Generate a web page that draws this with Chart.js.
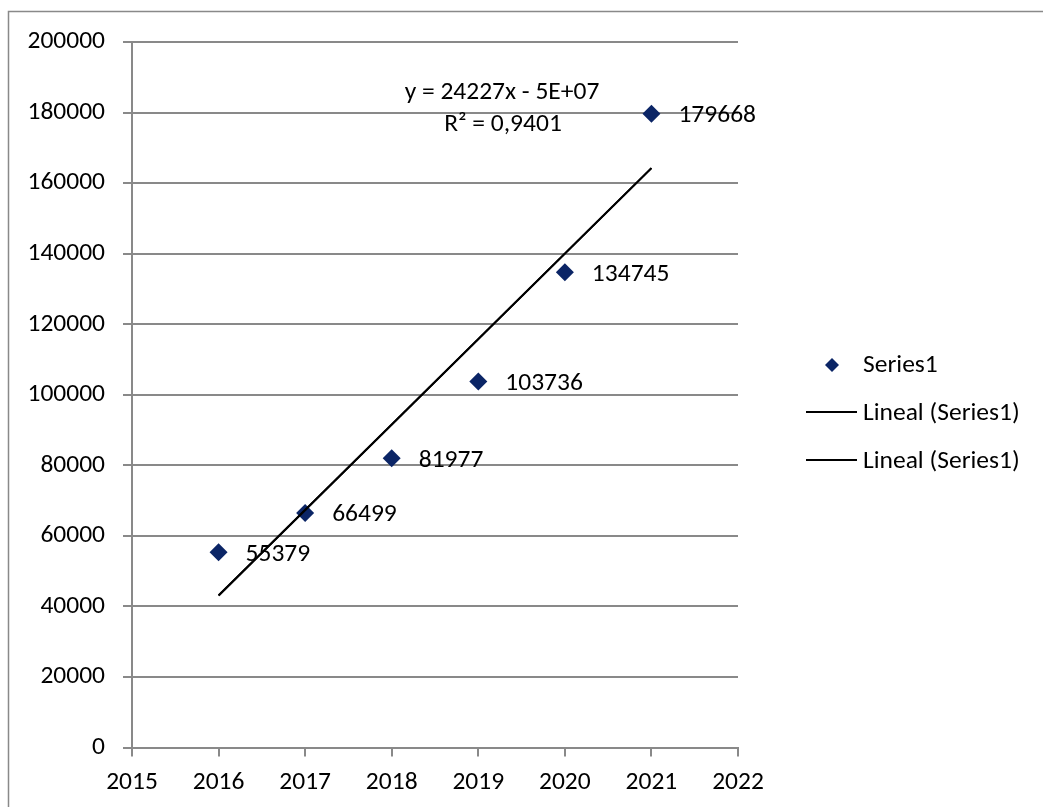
<!DOCTYPE html>
<html>
<head>
<meta charset="utf-8">
<script src="https://cdn.jsdelivr.net/npm/chart.js@4"></script>
<style>
  html, body { margin: 0; padding: 0; background: #fff; }
  #wrap { width: 1043px; height: 807px; }
</style>
</head>
<body>
<div id="wrap"><canvas id="chart" width="1043" height="807"></canvas></div>
<script>
const years = [2016, 2017, 2018, 2019, 2020, 2021];
const values = [55379, 66499, 81977, 103736, 134745, 179668];
// trendline ends
const trendYears = [2016, 2021];
const trendValues = [43100, 164235];
const seriesName = 'Series1';
const trendName = 'Lineal (Series1)';
const equationLines = ['y = 24227x - 5E+07', 'R² = 0,9401'];

const FONT = 'Carlito, Calibri, Lato, sans-serif';
const FSIZE = 25.5;
const GRID = '#898989';
const NAVY = '#0b2566';

const points = years.map((x, i) => ({ x: x, y: values[i] }));
const trend = trendYears.map((x, i) => ({ x: x, y: trendValues[i] }));

const extras = {
    id: 'extras',
    beforeDraw(chart) {
        const c = chart.ctx;
        c.save();
        c.fillStyle = '#fff';
        c.fillRect(0, 0, chart.width, chart.height);
        c.strokeStyle = GRID;
        c.lineWidth = 1.5;
        c.strokeRect(8.5, 11.5, chart.width + 10, chart.height + 10);
        c.restore();
    },
    afterDatasetDraw(chart, args) {
        if (args.index !== 0) return;
        const c = chart.ctx;
        c.save();
        c.font = FSIZE + 'px ' + FONT;
        c.fillStyle = '#000';
        c.textBaseline = 'middle';
        c.textAlign = 'left';
        args.meta.data.forEach((p, i) => {
            c.fillText(String(values[i]), p.x + 27, p.y + 2);
        });
        c.restore();
    },
    afterDraw(chart) {
        const c = chart.ctx;
        c.save();
        c.font = FSIZE + 'px ' + FONT;
        c.fillStyle = '#000';
        c.textBaseline = 'middle';
        c.textAlign = 'center';
        c.fillText(equationLines[0], 502, 93);
        c.fillText(equationLines[1], 503, 125);

        // legend
        c.textAlign = 'left';
        const lx = 863;
        c.fillText(seriesName, lx, 366);
        c.fillStyle = NAVY;
        c.beginPath();
        c.moveTo(832, 365 - 7);
        c.lineTo(832 + 7, 365);
        c.lineTo(832, 365 + 7);
        c.lineTo(832 - 7, 365);
        c.closePath();
        c.fill();
        c.strokeStyle = '#000';
        c.lineWidth = 2;
        [412, 460].forEach(y => {
            c.beginPath();
            c.moveTo(806, y);
            c.lineTo(857, y);
            c.stroke();
            c.fillStyle = '#000';
            c.fillText(trendName, lx, y + 2);
        });
        c.restore();
    }
};

new Chart(document.getElementById('chart'), {
    type: 'scatter',
    data: {
        datasets: [{
            label: seriesName,
            data: points,
            order: 2,
            pointStyle: 'rectRot',
            pointRadius: 9,
            pointHoverRadius: 9,
            backgroundColor: NAVY,
            borderColor: NAVY,
            borderWidth: 0
        }, {
            label: trendName,
            data: trend,
            order: 1,
            showLine: true,
            pointRadius: 0,
            borderColor: '#000',
            borderWidth: 2
        }, {
            label: trendName,
            data: trend,
            order: 0,
            showLine: true,
            pointRadius: 0,
            borderColor: '#000',
            borderWidth: 2
        }]
    },
    options: {
        responsive: false,
        animation: false,
        events: [],
        layout: { padding: { left: 0, top: 42, right: 305, bottom: 0 } },
        plugins: { legend: { display: false }, tooltip: { enabled: false } },
        scales: {
            x: {
                type: 'linear',
                min: 2015,
                max: 2022,
                afterFit: s => { s.height = 59.5; },
                ticks: {
                    stepSize: 1,
                    padding: 11,
                    color: '#000',
                    font: { family: FONT, size: FSIZE },
                    callback: v => String(v)
                },
                grid: { drawOnChartArea: false, drawTicks: true, tickLength: 9, color: GRID, lineWidth: 2 },
                border: { display: true, color: GRID, width: 2 }
            },
            y: {
                min: 0,
                max: 200000,
                afterFit: s => { s.width = 132; },
                ticks: {
                    stepSize: 20000,
                    padding: 18,
                    color: '#000',
                    font: { family: FONT, size: FSIZE },
                    callback: v => String(v)
                },
                grid: { color: GRID, lineWidth: 2, tickLength: 9 },
                border: { display: true, color: GRID, width: 2 }
            }
        }
    },
    plugins: [extras]
});
</script>
</body>
</html>
